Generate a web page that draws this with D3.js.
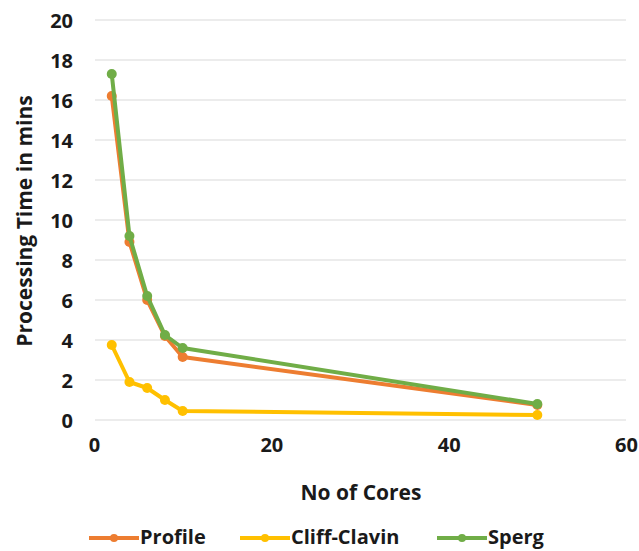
<!DOCTYPE html>
<html>
<head>
<meta charset="utf-8">
<script src="https://cdn.jsdelivr.net/npm/d3@7"></script>
<style>
  body { margin: 0; background: #fff; }
  text { font-family: "Open Sans", sans-serif; font-weight: bold; fill: #1a1a1a; }
</style>
</head>
<body>
<script>
var cores = [2, 4, 6, 8, 10, 50];
var profile = [16.2, 8.9, 6.0, 4.2, 3.15, 0.75];
var cliffClavin = [3.75, 1.9, 1.6, 1.0, 0.45, 0.25];
var sperg = [17.3, 9.2, 6.2, 4.25, 3.6, 0.8];
var seriesNames = ["Profile", "Cliff-Clavin", "Sperg"];
var xTicks = [0, 20, 40, 60];
var yTicks = [0, 2, 4, 6, 8, 10, 12, 14, 16, 18, 20];

function init(){
    var w = 639;
    var h = 551;
    var colors = ["#ED7D31", "#FFC000", "#70AD47"];
    var allSeries = [profile, cliffClavin, sperg];

    var xScale = d3.scaleLinear().domain([0, 60]).range([94, 626]);
    var yScale = d3.scaleLinear().domain([0, 20]).range([420, 20]);

    var svg = d3.select("body")
                .append("svg")
                .attr("width", w)
                .attr("height", h);

    // gridlines
    svg.append("g")
       .selectAll("line")
       .data(yTicks)
       .enter()
       .append("line")
       .attr("x1", 95)
       .attr("x2", 626)
       .attr("y1", function(d) { return yScale(d); })
       .attr("y2", function(d) { return yScale(d); })
       .attr("stroke", "#d9d9d9")
       .attr("stroke-width", 1);

    // y axis labels
    var yAxis = d3.axisLeft(yScale).tickValues(yTicks).tickSize(0).tickPadding(0);
    var gy = svg.append("g").attr("transform", "translate(73,0)").call(yAxis);
    gy.select(".domain").remove();
    gy.selectAll("text").style("font-size", "20px").style("font-family", "'Open Sans', sans-serif").attr("dy", "0.35em");

    // x axis labels
    var xAxis = d3.axisBottom(xScale).tickValues(xTicks).tickSize(0).tickPadding(0);
    var gx = svg.append("g").attr("transform", "translate(0,438)").call(xAxis);
    gx.select(".domain").remove();
    gx.selectAll("text").style("font-size", "20px").style("font-family", "'Open Sans', sans-serif");

    var line = d3.line()
                 .x(function(d, i) { return xScale(cores[i]); })
                 .y(function(d) { return yScale(d); });

    // draw Cliff-Clavin, Profile, then Sperg on top
    [1, 0, 2].forEach(function(k) {
        var g = svg.append("g");
        g.append("path")
         .datum(allSeries[k])
         .attr("d", line)
         .attr("fill", "none")
         .attr("stroke", colors[k])
         .attr("stroke-width", 4)
         .attr("stroke-linejoin", "round");
        g.selectAll("circle")
         .data(allSeries[k])
         .enter()
         .append("circle")
         .attr("cx", function(d, i) { return xScale(cores[i]); })
         .attr("cy", function(d) { return yScale(d); })
         .attr("r", 5)
         .attr("fill", colors[k]);
    });

    // axis titles
    svg.append("text")
       .attr("x", 361)
       .attr("y", 500)
       .attr("text-anchor", "middle")
       .style("font-size", "21px")
       .text("No of Cores");

    svg.append("text")
       .attr("transform", "translate(32,221) rotate(-90)")
       .attr("text-anchor", "middle")
       .style("font-size", "21px")
       .text("Processing Time in mins");

    // legend
    var legendX = [89, 240, 437];
    var legend = svg.append("g");
    seriesNames.forEach(function(name, i) {
        var lx = legendX[i];
        legend.append("line")
              .attr("x1", lx).attr("x2", lx + 50)
              .attr("y1", 538).attr("y2", 538)
              .attr("stroke", colors[i]).attr("stroke-width", 4);
        legend.append("circle")
              .attr("cx", lx + 25).attr("cy", 538).attr("r", 4)
              .attr("fill", colors[i]);
        legend.append("text")
              .attr("x", lx + 51)
              .attr("y", 544)
              .style("font-size", "20px")
              .text(name);
    });
}
window.onload = init;
</script>
</body>
</html>
